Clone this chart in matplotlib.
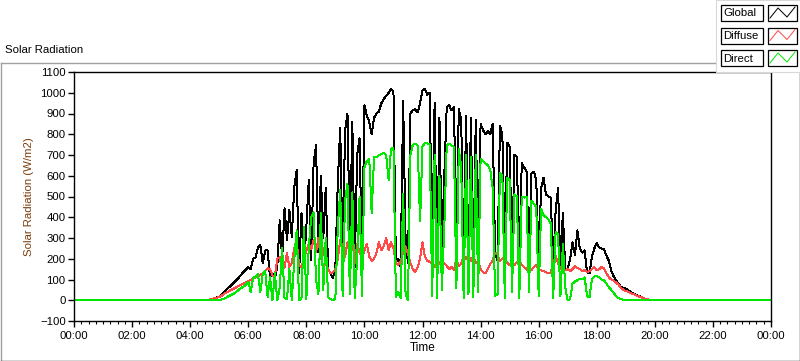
import numpy as np
import pandas as pd
import matplotlib
matplotlib.use('Agg')
import matplotlib.pyplot as plt
from matplotlib.lines import Line2D
from matplotlib.patches import Rectangle
from matplotlib.ticker import MultipleLocator, FuncFormatter

plt.rcParams['font.family'] = ['Liberation Sans', 'DejaVu Sans']

# sampling grid of the day-time record (5 min), night is zero
start = '04:30'
step_min = 5

global_rad = [0, 2, 4, 7, 10, 14, 18, 25, 38, 52, 62, 72, 84, 96, 108, 122, 136, 148, 160, 150,
              200, 207, 255, 265, 178, 240, 240, 111, 130, 106, 160, 385, 200, 443, 290, 434, 304, 545, 627, 130,
              420, 160, 352, 578, 193, 660, 747, 230, 600, 300, 540, 150, 130, 106, 160, 570, 830, 200, 820, 900,
              250, 860, 160, 700, 780, 160, 940, 890, 860, 800, 880, 900, 910, 950, 970, 985, 1000, 1020, 1005, 180,
              200, 160, 960, 300, 180, 900, 915, 920, 905, 950, 1010, 1020, 990, 1000, 200, 950, 150, 880, 250, 600,
              930, 940, 915, 930, 300, 920, 870, 150, 890, 160, 880, 130, 870, 250, 850, 820, 800, 815, 800, 850,
              230, 190, 840, 800, 200, 760, 740, 200, 700, 690, 150, 660, 640, 620, 180, 610, 620, 580, 190, 540,
              590, 510, 500, 495, 160, 430, 540, 170, 420, 145, 150, 200, 280, 220, 337, 250, 230, 240, 135, 130,
              210, 250, 275, 255, 250, 245, 215, 190, 140, 115, 95, 80, 65, 60, 55, 48, 40, 34, 28, 22,
              18, 12, 8, 4, 2, 0, 0]

diffuse_rad = [0, 2, 4, 6, 9, 12, 16, 22, 30, 38, 44, 50, 56, 62, 68, 74, 80, 86, 92, 98,
               104, 110, 116, 122, 130, 140, 155, 150, 120, 115, 200, 207, 150, 160, 226, 160, 180, 250, 290, 165,
               160, 200, 240, 270, 245, 290, 230, 300, 200, 250, 180, 150, 130, 135, 150, 200, 290, 260, 210, 280,
               230, 300, 180, 270, 230, 200, 240, 270, 210, 190, 200, 230, 280, 240, 260, 300, 240, 280, 250, 180,
               170, 190, 230, 260, 225, 180, 150, 135, 160, 200, 280, 210, 190, 185, 175, 160, 190, 180, 170, 180,
               165, 150, 160, 145, 200, 165, 175, 215, 200, 220, 190, 210, 180, 190, 150, 135, 130, 150, 175, 190,
               230, 220, 190, 200, 210, 180, 170, 180, 170, 185, 190, 170, 160, 150, 140, 145, 160, 170, 150, 145,
               140, 135, 130, 135, 170, 215, 180, 150, 155, 145, 150, 140, 150, 165, 155, 150, 140, 145, 135, 140,
               150, 160, 145, 150, 160, 155, 130, 110, 100, 95, 85, 75, 60, 50, 45, 40, 35, 30, 25, 20,
               16, 12, 8, 4, 2, 0, 0]

direct_rad = [0, 0, 0, 0, 0, 1, 2, 4, 8, 14, 20, 26, 32, 40, 50, 58, 66, 74, 90, 40,
              106, 115, 125, 40, 130, 140, 15, 110, 0, 130, 0, 60, 250, 10, 5, 150, 0, 193, 337, 0,
              10, 352, 5, 250, 400, 424, 100, 30, 420, 50, 300, 15, 5, 0, 10, 350, 530, 20, 480, 560,
              30, 520, 10, 200, 500, 20, 640, 670, 680, 420, 690, 690, 700, 705, 710, 700, 580, 730, 735, 15,
              40, 10, 510, 30, 0, 700, 750, 755, 745, 380, 740, 760, 755, 750, 20, 700, 10, 600, 50, 350,
              745, 755, 745, 740, 60, 730, 640, 10, 700, 30, 690, 15, 700, 40, 680, 670, 660, 650, 630, 540,
              20, 30, 615, 600, 10, 590, 580, 40, 510, 500, 10, 500, 495, 497, 40, 480, 465, 450, 20, 440,
              410, 400, 390, 370, 10, 330, 320, 20, 270, 60, 0, 5, 80, 90, 96, 105, 100, 110, 20, 15,
              100, 115, 118, 110, 100, 96, 80, 63, 50, 35, 20, 10, 5, 3, 2, 1, 0, 0, 0, 0,
              0, 0, 0, 0, 0, 0, 0]

t0 = pd.Timestamp('2000-01-01 ' + start)
times = pd.date_range(t0, periods=len(global_rad), freq=f'{step_min}min')
hours = (times.hour + times.minute / 60.0).to_numpy()

# night time: flat zero from midnight to midnight
t_full = np.concatenate([[0.0], hours, [24.0]])
series = [
    ('Global', global_rad, '#000000'),
    ('Diffuse', diffuse_rad, '#ff4a4a'),
    ('Direct', direct_rad, '#00e800'),
]

W, H = 800, 361
fig = plt.figure(figsize=(W / 100, H / 100), dpi=100)


def fx(px):
    return px / W


def fy(py):
    return 1 - py / H


ax = fig.add_axes([fx(74), fy(321), fx(771) - fx(74), fy(72) - fy(321)])

for name, vals, col in series:
    y = np.concatenate([[0.0], vals, [0.0]])
    ax.plot(t_full, y, color=col, lw=0.72, antialiased=False)

ax.set_xlim(0, 24)
ax.set_ylim(-100, 1100)
ax.xaxis.set_major_locator(MultipleLocator(2))
ax.xaxis.set_minor_locator(MultipleLocator(0.25))
ax.xaxis.set_major_formatter(FuncFormatter(lambda v, p: '%02d:00' % (int(round(v)) % 24)))
ax.yaxis.set_major_locator(MultipleLocator(100))
ax.tick_params(axis='both', which='major', length=4, width=1, labelsize=8.2, colors='black', pad=2)
ax.tick_params(axis='x', which='minor', length=2.5, width=0.8)
ax.tick_params(axis='x', which='major', pad=3)
for s in ax.spines.values():
    s.set_color('black')
    s.set_linewidth(1)

ax.set_xlabel('Time', fontsize=8.5, labelpad=1)
ax.set_ylabel('Solar Radiation (W/m2)', fontsize=8.2, color='#7a3c0c', labelpad=4)

# outer panel frame
fig.add_artist(Line2D([fx(0.5), fx(718)], [fy(62.5), fy(62.5)], color='#a0a0a0', lw=1))
fig.add_artist(Line2D([fx(0.5), fx(0.5)], [fy(62.5), fy(360.5)], color='#a0a0a0', lw=1))
fig.add_artist(Line2D([fx(0.5), fx(799.5)], [fy(360.5), fy(360.5)], color='#202020', lw=1))
fig.add_artist(Line2D([fx(799.5), fx(799.5)], [fy(70), fy(360.5)], color='#202020', lw=1))
fig.text(fx(5), fy(50), 'Solar Radiation', fontsize=8.2, va='center', ha='left')

# legend panel (top right)
fig.add_artist(Rectangle((fx(716), fy(72)), fx(800) - fx(716), fy(0) - fy(72),
                         facecolor='white', edgecolor='#d8d8d8', lw=0.8, zorder=5))
zig = [(2, 13), (10, 3), (19, 12), (27, 2)]
for k, (name, vals, col) in enumerate(series):
    top = 5 + k * 22.5
    fig.add_artist(Rectangle((fx(721), fy(top + 16)), fx(763) - fx(721), fy(top) - fy(top + 16),
                             facecolor='white', edgecolor='black', lw=0.9, zorder=6))
    fig.text(fx(723), fy(top + 8.5), name, fontsize=8.2, va='center', ha='left', zorder=7)
    fig.add_artist(Rectangle((fx(768), fy(top + 16)), fx(797) - fx(768), fy(top) - fy(top + 16),
                             facecolor='white', edgecolor='black', lw=0.9, zorder=6))
    fig.add_artist(Line2D([fx(768 + a) for a, b in zig], [fy(top + b) for a, b in zig],
                          color=col, lw=0.72, zorder=7))

fig.savefig('out.png', dpi=100)
